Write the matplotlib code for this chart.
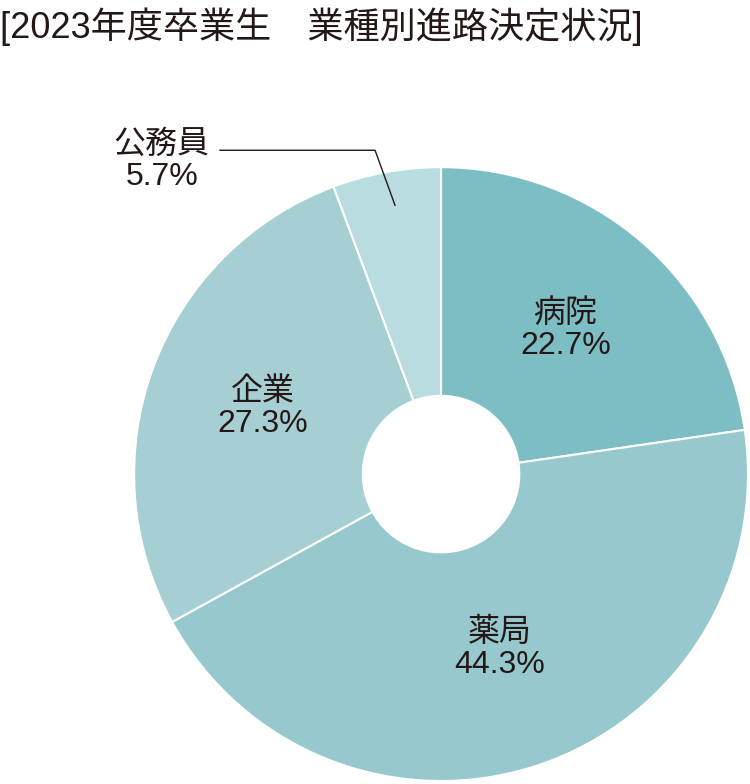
import matplotlib.pyplot as plt
import numpy as np

plt.rcParams['font.family'] = ['Liberation Sans', 'Noto Sans CJK JP', 'DejaVu Sans']

labels = ['病院', '薬局', '企業', '公務員']
values = [22.7, 44.3, 27.3, 5.7]
colors = ['#7dbec4', '#96c8ce', '#a6cfd4', '#b8dcdf']

fig = plt.figure(figsize=(7.5, 7.84), dpi=100)
ax = fig.add_axes([0.1787, 0.0038, 0.8187, 0.783])
wedges, _ = ax.pie(values, colors=colors, startangle=90, counterclock=False,
                   wedgeprops=dict(width=0.745, edgecolor='white', linewidth=1.5))
ax.set_xlim(-1, 1)
ax.set_ylim(-1, 1)
ax.set_aspect('equal')

# inner labels placed along the wedge mid-angle
label_r = [0.62, 0.6, 0.62]
for w, lab, v, r in zip(wedges[:3], labels[:3], values[:3], label_r):
    ang = np.deg2rad((w.theta1 + w.theta2) / 2)
    ax.text(r * np.cos(ang), r * np.sin(ang), f'{lab}\n{v}%', ha='center', va='center',
            fontsize=23, color='#231815', linespacing=1.1)

# outside label for 公務員 with leader line
ax.text(-0.91, 1.02, f'{labels[3]}\n{values[3]}%', ha='center', va='center',
        fontsize=23, color='#231815', linespacing=1.1, clip_on=False)
ax.plot([-0.72, -0.215, -0.15], [1.055, 1.055, 0.876], color='#231815', lw=1, clip_on=False)

fig.text(0.0, 0.99, '[2023年度卒業生　業種別進路決定状況]', ha='left', va='top',
         fontsize=26, color='#231815')

fig.savefig('out.png', dpi=100)
